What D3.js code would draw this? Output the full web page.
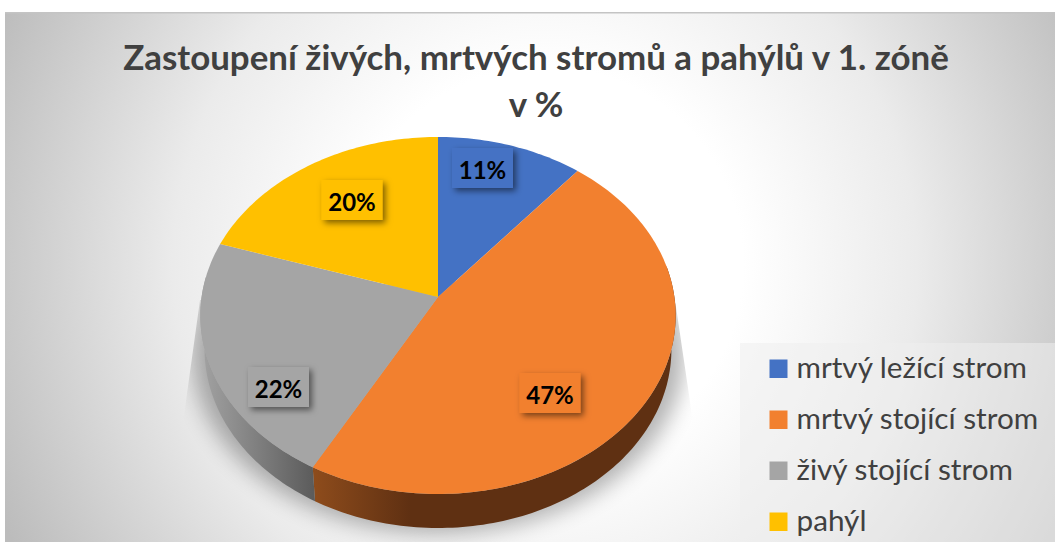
<!DOCTYPE html>
<html><head><meta charset="utf-8">
<script src="https://cdn.jsdelivr.net/npm/d3@7"></script>
<style>html,body{margin:0;padding:0;background:#fff;overflow:hidden}svg{display:block}text{font-family:Lato,"Open Sans",sans-serif}</style>
</head><body><svg id="c" width="1055" height="542"></svg>
<script>
const categories = ["mrtvý ležící strom","mrtvý stojící strom","živý stojící strom","pahýl"];
const values = [11,47,22,20];
const colors = ["#4472c4","#f2802f","#a5a5a5","#ffc000"];
const titleLines = ["Zastoupení živých, mrtvých stromů a pahýlů v 1. zóně","v %"];

const svg = d3.select("#c");
const defs = svg.append("defs");
const bg = defs.append("radialGradient").attr("id","bg").attr("gradientUnits","userSpaceOnUse")
  .attr("cx",545).attr("cy",265).attr("r",600);
[[0,"#ffffff"],[.33,"#ffffff"],[.62,"#ebebeb"],[1,"#bcbcbc"]].forEach(s=>bg.append("stop").attr("offset",s[0]).attr("stop-color",s[1]));
svg.append("rect").attr("x",5).attr("y",12).attr("width",1050).attr("height",530).attr("fill","url(#bg)");
svg.append("rect").attr("x",5).attr("y",12).attr("width",1050).attr("height",1.5).attr("fill","#c4c4c4");

// projection of the tilted disc
const cx=438, cy=297, b=236.4, a=176.6, k=0.1036, depth=34;
const proj = t => { const x=Math.sin(t), y=-Math.cos(t), w=1-k*y; return [cx+b*x/w, cy+a*y/w]; };
const line = d3.line();
const angs = d3.pie().sort(null)(values);
const samples=(s,e)=>{const n=Math.max(2,Math.ceil((e-s)/0.02));return d3.range(n+1).map(i=>s+(e-s)*i/n);};

const blur=defs.append("filter").attr("id","blur").attr("x","-30%").attr("y","-30%").attr("width","160%").attr("height","160%");
blur.append("feGaussianBlur").attr("stdDeviation",11);
const ds=defs.append("filter").attr("id","ds").attr("x","-30%").attr("y","-30%").attr("width","170%").attr("height","170%");
ds.append("feDropShadow").attr("dx",3).attr("dy",3).attr("stdDeviation",3).attr("flood-color","#000").attr("flood-opacity",.5);

// shadow: blurred disc, cut off along the two slanted cone edges
const clip=defs.append("clipPath").attr("id","cone");
clip.append("path").attr("d",line([[438,280],[675,300],[692,415],[790,450],[790,542],[90,542],[90,450],[184,415],[200,300]])+"Z");
const full=samples(0,2*Math.PI).map(proj);
svg.append("g").attr("clip-path","url(#cone)").append("path")
  .attr("d",line(full.map(p=>[cx+(p[0]-cx)*1.035,p[1]+depth+5]))+"Z").attr("fill","#000").attr("opacity",.3).attr("filter","url(#blur)");

// wall gradients
const wallStops={1:[[0,"#8e4c1c"],[.27,"#5f3012"],[1,"#5f3012"]],2:[[0,"#a3a3a3"],[1,"#5c5c5c"]]};
Object.entries(wallStops).forEach(([i,st])=>{
  const g=defs.append("linearGradient").attr("id","w"+i).attr("gradientUnits","userSpaceOnUse")
    .attr("x1",i==1?313:200).attr("x2",i==1?675:313).attr("y1",0).attr("y2",0);
  st.forEach(s=>g.append("stop").attr("offset",s[0]).attr("stop-color",s[1]));
});
// walls: lower rim is the top rim moved down and pulled in; the top face covers the rest
const drawWall=(i,s,e)=>{
  const top=samples(s,e).map(proj);
  const bot=top.slice().reverse().map(p=>[p[0]+(cx-p[0])*0.018,p[1]+depth]);
  svg.append("path").attr("d",line(top.concat(bot))+"Z").attr("fill",`url(#w${i})`);
};
drawWall(1,angs[1].startAngle+0.7,angs[1].endAngle);
drawWall(2,angs[2].startAngle,angs[2].endAngle-0.2);

// top face
angs.forEach((d,i)=>{
  const pts=[[cx,cy]].concat(samples(d.startAngle,d.endAngle).map(proj));
  svg.append("path").attr("d",line(pts)+"Z").attr("fill",colors[i]);
});

// data labels
const labelPos=[[482.5,168],[550,393],[278.5,387],[352,200]];
angs.forEach((d,i)=>{
  const [x,y]=labelPos[i];
  svg.append("rect").attr("x",x-30.5).attr("y",y-20).attr("width",61).attr("height",40).attr("fill",colors[i]).attr("filter","url(#ds)");
  svg.append("text").attr("x",x).attr("y",y+10.5).attr("text-anchor","middle").attr("font-size",24).attr("font-weight",700).attr("fill","#000").text(d.value+"%");
});

// title
titleLines.forEach((t,i)=>svg.append("text").attr("x",536).attr("y",[70,117][i]).attr("text-anchor","middle")
  .attr("font-size",34.9).attr("font-weight",700).attr("fill","#404040").text(t));

// legend
svg.append("rect").attr("x",740).attr("y",343).attr("width",315).attr("height",199).attr("fill","#efefef").attr("opacity",.55);
const ly=[378,429,480,531];
categories.forEach((c,i)=>{
  svg.append("rect").attr("x",769.5).attr("y",ly[i]-18.5).attr("width",18).attr("height",18.5).attr("fill",colors[i]);
  svg.append("text").attr("x",796.5).attr("y",ly[i]).attr("font-size",29.7).attr("fill","#404040").text(c);
});
</script></body></html>
